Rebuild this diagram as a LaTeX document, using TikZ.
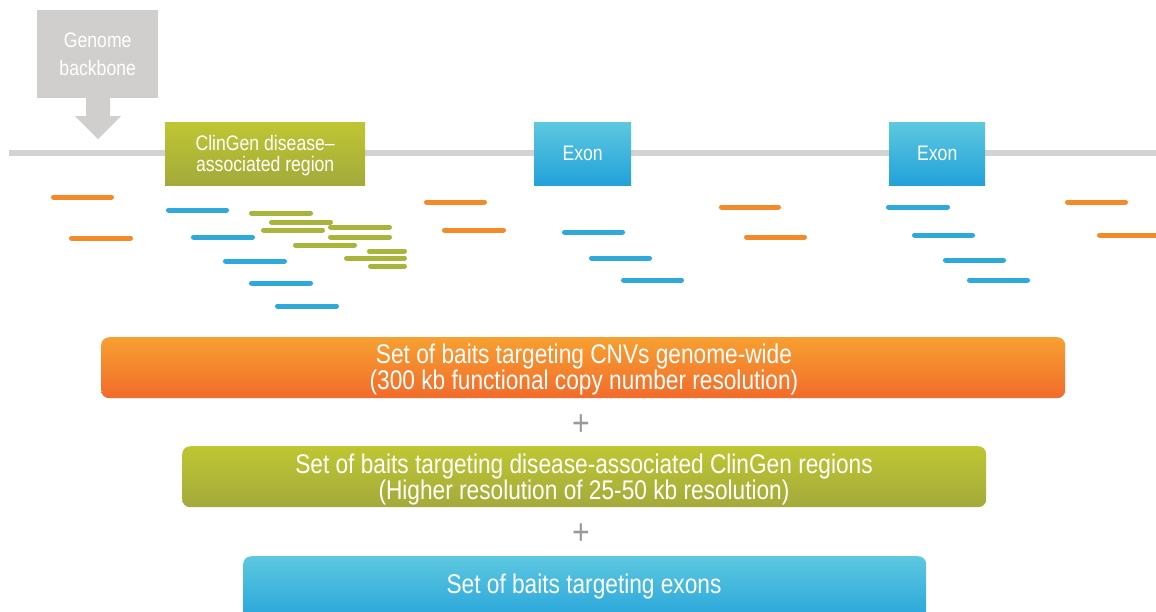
\documentclass[tikz,border=0pt]{standalone}
\usepackage{fontspec}
\setmainfont{Liberation Sans}[FakeStretch=0.84]
\definecolor{orTop}{HTML}{F7A031}
\definecolor{orBot}{HTML}{F26B2B}
\definecolor{grTop}{HTML}{BFC632}
\definecolor{grBot}{HTML}{A3AA3B}
\definecolor{blTop}{HTML}{5DC8E0}
\definecolor{blBot}{HTML}{22A1DA}
\definecolor{orBar}{HTML}{F58A2B}
\definecolor{blBar}{HTML}{2FA8DC}
\definecolor{grBar}{HTML}{A9B43A}
\definecolor{grayBox}{HTML}{D0CFCE}
\definecolor{backbone}{HTML}{D3D3D3}
\definecolor{plusGray}{HTML}{9A9A9A}
\tikzset{
  lbl/.style={inner sep=0pt, anchor=north west, text=white, align=center,
    font=\fontsize{21}{21}\selectfont},
  setbox/.style={inner sep=0pt, anchor=north west, rounded corners=8pt},
  settext/.style={inner sep=0pt, text=white, align=center,
    font=\fontsize{27}{26}\selectfont},
  bait/.style={line width=5pt, line cap=round},
  plussign/.style={inner sep=0pt, text=plusGray, font=\fontsize{36}{36}\selectfont},
}
\newcommand{\baits}[2]{\foreach \a/\b/\y in {#2} {\draw[bait, #1] (\a+2.5,\y) -- (\b-2.5,\y);}}
\begin{document}
\begin{tikzpicture}[x=1pt, y=-1pt]
\useasboundingbox (0,0) rectangle (1156,611);
\clip (0,0) rectangle (1156,611);
% backbone
\draw[line width=5.5pt, backbone] (9,153) -- (1156,153);
% genome backbone label with arrow
\node[lbl, fill=grayBox, minimum width=121pt, minimum height=88pt,
  font=\fontsize{21}{27}\selectfont] (gb) at (37,10) {Genome\\[1pt]backbone};
\fill[grayBox] (86,97) -- (110,97) -- (110,116) -- (121,116) -- (98,139)
  -- (75,116) -- (86,116) -- cycle;
% region boxes
\node[lbl, top color=grTop, bottom color=grBot, minimum width=200pt,
  minimum height=63pt] (clin) at (165,122) {};
\node[lbl] (clint) at ([yshift=-2pt]clin.center) [anchor=center]
  {ClinGen disease--\\associated region};
\node[lbl, top color=blTop, bottom color=blBot, minimum width=97pt,
  minimum height=63pt] (ex1) at (534,122) {Exon};
\node[lbl, top color=blTop, bottom color=blBot, minimum width=96pt,
  minimum height=63pt] (ex2) at (889,122) {Exon};
% baits
\baits{orBar}{51/114/197, 69/133/238, 424/487/202, 442/506/230, 719/781/207,
  744/807/237, 1065/1128/202, 1097/1160/235}
\baits{blBar}{166/229/210, 191/255/237, 223/287/261, 249/313/283, 275/339/306,
  562/625/232, 589/652/258, 621/684/280, 886/950/207, 912/975/235,
  943/1006/260, 967/1030/280}
\baits{grBar}{249/313/213, 269/333/222, 261/325/230, 328/392/227, 328/392/237,
  293/357/245, 367/407/251, 344/407/258, 368/407/266}
% sets
\node[setbox, top color=orTop, bottom color=orBot, minimum width=964pt,
  minimum height=61pt] (s1) at (101,337) {};
\node[settext] (s1t) at (584,369.5)
  {Set of baits targeting CNVs genome-wide\\(300 kb functional copy number resolution)};
\node[plussign] (p1) at (581,425) {+};
\node[setbox, top color=grTop, bottom color=grBot, minimum width=804pt,
  minimum height=61pt] (s2) at (182,446) {};
\node[settext] (s2t) at (584,479.5)
  {Set of baits targeting disease-associated ClinGen regions\\(Higher resolution of 25-50 kb resolution)};
\node[plussign] (p2) at (581,534) {+};
\node[setbox, top color=blTop, bottom color=blBot, minimum width=683pt,
  minimum height=70pt] (s3) at (243,556) {};
\node[settext] (s3t) at (584,587) {Set of baits targeting exons};
\end{tikzpicture}
\end{document}
